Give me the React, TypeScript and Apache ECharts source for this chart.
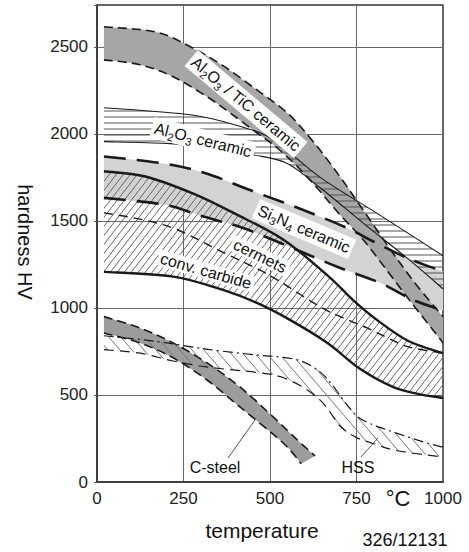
import React, { useEffect, useRef } from 'react';
import * as echarts from 'echarts';

// ---------- data (temperature °C, hardness HV) ----------
const xTicks = [0, 250, 500, 750, 1000];
const yTicks = [0, 500, 1000, 1500, 2000, 2500];

const ticUpper = [[20, 2615], [170, 2585], [270, 2500], [365, 2390], [460, 2255], [550, 2120], [625, 1955], [700, 1760], [770, 1560], [850, 1330], [920, 1140], [1000, 950]];
const ticLower = [[20, 2425], [124, 2397], [220, 2328], [318, 2213], [384, 2121], [462, 2006], [520, 1920], [580, 1810], [640, 1680], [700, 1540], [770, 1390], [840, 1210], [905, 1040], [1000, 800]];

const aluUpper = [[20, 2150], [270, 2110], [410, 2045], [510, 1965], [645, 1750], [820, 1530], [1000, 1300]];
const aluLower = [[20, 1955], [200, 1945], [320, 1920], [450, 1880], [550, 1830], [645, 1690], [780, 1470], [900, 1280], [1000, 1110]];

const siUpper = [[20, 1870], [190, 1830], [312, 1775], [451, 1670], [587, 1570], [722, 1460], [800, 1380], [905, 1280], [1000, 1210]];
const siLower = [[20, 1632], [197, 1592], [298, 1530], [420, 1460], [558, 1350], [694, 1236], [818, 1144], [913, 1046], [1000, 985]];

const cermetUpper = [[20, 1785], [140, 1755], [280, 1655], [400, 1540], [540, 1390], [670, 1180], [740, 1045], [810, 930], [900, 810], [1000, 740]];
const cermetInner = [[20, 1546], [90, 1523], [160, 1494], [225, 1455], [290, 1395], [350, 1333], [410, 1276], [470, 1218], [530, 1150], [645, 1006], [711, 943], [780, 885], [840, 828], [900, 776], [1000, 740]];
const carbideLower = [[20, 1207], [220, 1180], [364, 1103], [462, 1029], [550, 940], [665, 800], [760, 650], [855, 546], [930, 505], [1000, 483]];

const steelUpper = [[20, 950], [124, 885], [220, 799], [318, 684], [413, 546], [509, 374], [580, 240], [630, 150]];
const steelLower = [[20, 856], [124, 799], [220, 713], [318, 586], [413, 431], [538, 224], [590, 105]];

const hssUpper = [[20, 840], [170, 808], [320, 762], [460, 730], [530, 718], [590, 695], [640, 640], [675, 570], [705, 490], [730, 425], [755, 372], [790, 335], [840, 298], [900, 258], [950, 226], [1000, 200]];
const hssLower = [[20, 760], [125, 740], [220, 695], [320, 660], [460, 630], [530, 605], [595, 545], [645, 470], [675, 397], [705, 316], [750, 255], [810, 213], [855, 185], [915, 165], [1000, 144]];

const FONT = '"Liberation Sans", Arial, Helvetica, sans-serif';

function hatch(kind: string, w: number, h: number, color: string, lw: number) {
  const c = document.createElement('canvas');
  c.width = w;
  c.height = h;
  const ctx = c.getContext('2d') as CanvasRenderingContext2D;
  ctx.strokeStyle = color;
  ctx.lineWidth = lw;
  ctx.beginPath();
  if (kind === 'h') {
    ctx.moveTo(0, h / 2);
    ctx.lineTo(w, h / 2);
  } else if (kind === 'f') {
    for (const o of [-w, 0, w]) {
      ctx.moveTo(o, h);
      ctx.lineTo(o + w, 0);
    }
  } else {
    for (const o of [-w, 0, w]) {
      ctx.moveTo(o, 0);
      ctx.lineTo(o + w, h);
    }
  }
  ctx.stroke();
  return { image: c.toDataURL(), repeat: 'repeat', imageWidth: w, imageHeight: h };
}

function crPath(p: number[][], start: string) {
  let d = `${start}${p[0][0].toFixed(2)},${p[0][1].toFixed(2)}`;
  for (let i = 0; i < p.length - 1; i++) {
    const p0 = p[i - 1] || p[i];
    const p1 = p[i];
    const p2 = p[i + 1];
    const p3 = p[i + 2] || p2;
    const c1x = p1[0] + (p2[0] - p0[0]) / 6;
    const c1y = p1[1] + (p2[1] - p0[1]) / 6;
    const c2x = p2[0] - (p3[0] - p1[0]) / 6;
    const c2y = p2[1] - (p3[1] - p1[1]) / 6;
    d += `C${c1x.toFixed(2)},${c1y.toFixed(2)} ${c2x.toFixed(2)},${c2y.toFixed(2)} ${p2[0].toFixed(2)},${p2[1].toFixed(2)}`;
  }
  return d;
}

export default function App() {
  const ref = useRef<HTMLDivElement>(null);
  useEffect(() => {
    if (!ref.current) return;
    const chart = echarts.init(ref.current, null, { renderer: 'svg' });

    const hPat = hatch('h', 8, 6, '#555', 1);
    const fPat = hatch('f', 7, 9, '#666', 1);
    const bPat = hatch('b', 12, 14, '#777', 1);

    const bands = [
      { upper: siUpper, lower: siLower, fill: '#d3d3d3' },
      { upper: ticUpper, lower: ticLower, fill: '#a6a6a6' },
      { upper: steelUpper, lower: steelLower, fill: '#9c9c9c' },
      { upper: cermetUpper, lower: carbideLower, fill: fPat },
      { upper: aluUpper, lower: aluLower, fill: hPat },
      { upper: hssUpper, lower: hssLower, fill: bPat },
    ];

    const lines = [
      { d: siUpper, w: 2.6, dash: [22, 11] },
      { d: siLower, w: 2.6, dash: [22, 11] },
      { d: ticUpper, w: 1.6, dash: [9, 5] },
      { d: ticLower, w: 1.6, dash: [9, 5] },
      { d: aluUpper, w: 1.1, dash: null },
      { d: aluLower, w: 1.1, dash: null },
      { d: cermetUpper, w: 2.4, dash: null },
      { d: cermetInner, w: 1.4, dash: [9, 6] },
      { d: carbideLower, w: 2.4, dash: null },
      { d: steelUpper, w: 1.6, dash: [9, 5] },
      { d: steelLower, w: 1.6, dash: [9, 5] },
      { d: hssUpper, w: 1.2, dash: [10, 4, 2, 4] },
      { d: hssLower, w: 1.2, dash: [10, 6] },
    ];

    const toPx = (api: any, arr: number[][]) => arr.map((v) => api.coord(v));

    const rich = {
      s: { fontSize: 11, fontFamily: FONT, fill: '#111', verticalAlign: 'bottom', lineHeight: 21 },
    };

    const label = (text: string, x: number, y: number, deg: number, size = 16, bg = true) => ({
      type: 'text',
      x,
      y,
      rotation: (-deg * Math.PI) / 180,
      z: 100,
      style: {
        text,
        rich,
        font: `${size}px ${FONT}`,
        fill: '#111',
        align: 'center',
        verticalAlign: 'middle',
        backgroundColor: bg ? '#fff' : 'transparent',
        padding: bg ? [0, 3, 0, 3] : 0,
      },
    });

    const option: any = {
      animation: false,
      backgroundColor: '#fff',
      grid: { left: 97, right: 26, top: 5, bottom: 70, show: true, borderColor: '#333', borderWidth: 1.5 },
      xAxis: {
        type: 'value',
        min: xTicks[0],
        max: xTicks[xTicks.length - 1],
        interval: 250,
        axisLine: { show: true, lineStyle: { color: '#333', width: 1.5 } },
        axisTick: { show: false },
        splitLine: { show: true, lineStyle: { color: '#666', width: 1 } },
        axisLabel: { fontSize: 17, color: '#222', margin: 8, fontFamily: FONT, formatter: (v: number) => String(v) },
      },
      yAxis: {
        type: 'value',
        min: yTicks[0],
        max: 2740,
        interval: 500,
        axisLine: { show: true, lineStyle: { color: '#333', width: 1.5 } },
        axisTick: { show: true, length: 3, lineStyle: { color: '#555' } },
        splitLine: { show: true, lineStyle: { color: '#666', width: 1 } },
        axisLabel: {
          fontSize: 17,
          color: '#222',
          margin: 9,
          fontFamily: FONT,
          formatter: (v: number) => (yTicks.indexOf(v) >= 0 ? String(v) : ''),
        },
      },
      series: [
        {
          type: 'custom',
          data: [[0, 0]],
          silent: true,
          z: 3,
          renderItem: (_p: any, api: any) => ({
            type: 'group',
            children: bands.map((b) => {
              const up = toPx(api, b.upper);
              const lo = toPx(api, b.lower).reverse();
              return {
                type: 'path',
                shape: { pathData: crPath(up, 'M') + crPath(lo, 'L') + 'Z' },
                style: { fill: b.fill, stroke: null },
              };
            }),
          }),
        },
        {
          type: 'custom',
          data: [[0, 0]],
          silent: true,
          z: 4,
          renderItem: (_p: any, api: any) => ({
            type: 'group',
            children: lines.map((l) => ({
              type: 'path',
              shape: { pathData: crPath(toPx(api, l.d), 'M') },
              style: { fill: null, stroke: '#1a1a1a', lineWidth: l.w, lineDash: l.dash || null },
            })),
          }),
        },
      ],
      graphic: [
        label('Al{s|2}O{s|3} / TiC ceramic', 246, 104, 40),
        label('Al{s|2}O{s|3} ceramic', 203, 140, 14),
        label('Si{s|3}N{s|4} ceramic', 304, 229, 23),
        label('cermets', 260, 256, 26),
        label('conv. carbide', 206, 271, 16),
        label('C-steel', 215, 467, 0, 16, false),
        label('HSS', 358, 467, 0, 16, false),
        { type: 'line', z: 100, shape: { x1: 228, y1: 458, x2: 255, y2: 420 }, style: { stroke: '#555', lineWidth: 1 } },
        { type: 'line', z: 100, shape: { x1: 361, y1: 457, x2: 378, y2: 438 }, style: { stroke: '#555', lineWidth: 1 } },
        label('°C', 398, 498, 0, 22, false),
        label('temperature', 262, 530, 0, 21, false),
        label('326/12131', 405, 540, 0, 18, false),
        label('hardness HV', 25, 242, 90, 20, false),
      ],
    };
    chart.setOption(option);
    return () => chart.dispose();
  }, []);
  return <div ref={ref} style={{ position: 'fixed', left: 0, top: 0, width: 469, height: 552 }} />;
}
